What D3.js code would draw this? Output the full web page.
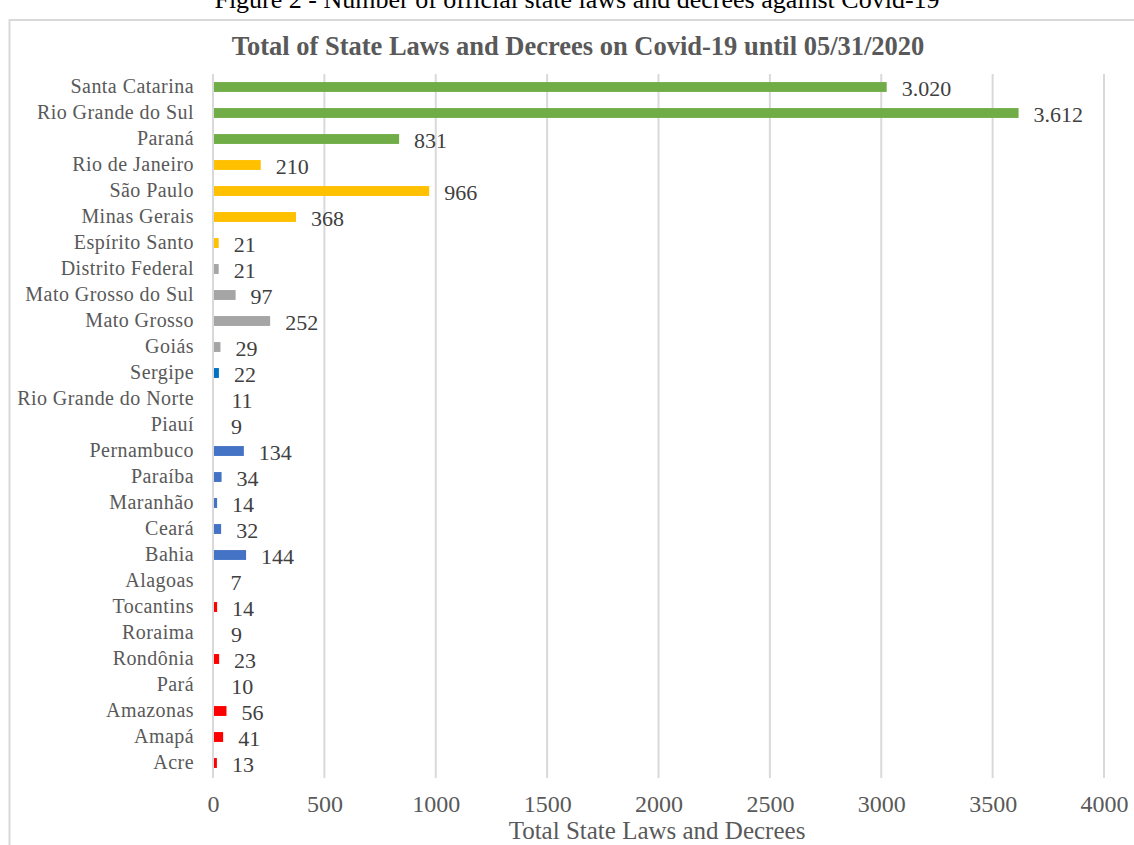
<!DOCTYPE html>
<html>
<head>
<meta charset="utf-8">
<script src="https://cdn.jsdelivr.net/npm/d3@7"></script>
<style>
  body { margin: 0; background: #fff; }
  svg text { font-family: 'Liberation Serif', 'Times New Roman', 'DejaVu Serif', serif !important; }
</style>
</head>
<body>
<div id="chart"></div>
<script>
// data, top to bottom
var states = ["Santa Catarina", "Rio Grande do Sul", "Paraná", "Rio de Janeiro", "São Paulo",
  "Minas Gerais", "Espírito Santo", "Distrito Federal", "Mato Grosso do Sul", "Mato Grosso",
  "Goiás", "Sergipe", "Rio Grande do Norte", "Piauí", "Pernambuco", "Paraíba", "Maranhão",
  "Ceará", "Bahia", "Alagoas", "Tocantins", "Roraima", "Rondônia", "Pará", "Amazonas",
  "Amapá", "Acre"];
var laws = [3020, 3612, 831, 210, 966, 368, 21, 21, 97, 252, 29, 22, 11, 9, 134, 34, 14, 32,
  144, 7, 14, 9, 23, 10, 56, 41, 13];
var barColors = ["#70ad47", "#70ad47", "#70ad47", "#ffc000", "#ffc000", "#ffc000", "#ffc000",
  "#a5a5a5", "#a5a5a5", "#a5a5a5", "#a5a5a5", "#0070c0", "#ffffff", "#ffffff", "#4472c4",
  "#4472c4", "#4472c4", "#4472c4", "#4472c4", "#ffffff", "#ff0000", "#ffffff", "#ff0000",
  "#ffffff", "#ff0000", "#ff0000", "#ff0000"];
var xTicks = [0, 500, 1000, 1500, 2000, 2500, 3000, 3500, 4000];

const W = 1134, H = 845;

const svg = d3.select("#chart")
  .append("svg")
    .attr("width", W)
    .attr("height", H);

// chart frame
svg.append("rect")
  .attr("x", 9.5).attr("y", 20)
  .attr("width", 1140).attr("height", 840)
  .attr("fill", "none")
  .attr("stroke", "#d9d9d9")
  .attr("stroke-width", 2);

// figure caption (cut off at top, like the reference)
svg.append("text")
  .attr("x", 577).attr("y", 8)
  .attr("text-anchor", "middle")
  .style("font-size", "26px")
  .style("fill", "#000")
  .text("Figure 2 - Number of official state laws and decrees against Covid-19");

svg.append("text")
  .attr("x", 578).attr("y", 55)
  .attr("text-anchor", "middle")
  .style("font-size", "26.5px")
  .style("font-weight", "bold")
  .style("fill", "#595959")
  .text("Total of State Laws and Decrees on Covid-19 until  05/31/2020");

const x = d3.scaleLinear()
  .domain([0, 4000])
  .range([213, 1104]);

const y = d3.scaleBand()
  .domain(states)
  .range([74, 776])
  .paddingInner(0.62)
  .paddingOuter(0.31);

// gridlines
svg.append("g")
  .selectAll("line")
  .data(xTicks)
  .join("line")
    .attr("x1", d => x(d)).attr("x2", d => x(d))
    .attr("y1", 74).attr("y2", 778)
    .attr("stroke", "#d9d9d9")
    .attr("stroke-width", 2);

// x axis labels
const xAxis = svg.append("g")
  .attr("transform", "translate(0,795)")
  .call(d3.axisBottom(x).tickValues(xTicks).tickSize(0).tickPadding(0).tickFormat(d3.format("d")));
xAxis.select(".domain").remove();
xAxis.selectAll("text")
  .attr("dy", "0.71em")
  .style("font-size", "24px")
  .style("fill", "#595959");

// category labels
const yAxis = svg.append("g")
  .attr("transform", "translate(194,0)")
  .call(d3.axisLeft(y).tickSize(0).tickPadding(0));
yAxis.select(".domain").remove();
yAxis.selectAll("text")
  .style("font-size", "20px")
  .style("letter-spacing", "0.45px")
  .style("fill", "#595959");

// bars
svg.append("g")
  .selectAll("rect")
  .data(laws)
  .join("rect")
    .attr("x", x(0) + 1)
    .attr("y", (d, i) => y(states[i]))
    .attr("width", d => x(d) - x(0))
    .attr("height", y.bandwidth())
    .attr("fill", (d, i) => barColors[i]);

// value labels
const fmt = d3.formatLocale({ decimal: ",", thousands: ".", grouping: [3], currency: ["", ""] }).format(",d");
svg.append("g")
  .selectAll("text")
  .data(laws)
  .join("text")
    .attr("x", d => x(d) + 16)
    .attr("y", (d, i) => y(states[i]) + y.bandwidth() / 2)
    .attr("dy", "0.42em")
    .style("font-size", "22px")
    .style("fill", "#404040")
    .text(d => fmt(d));

svg.append("text")
  .attr("x", 657).attr("y", 839)
  .attr("text-anchor", "middle")
  .style("font-size", "25px")
  .style("fill", "#595959")
  .text("Total State Laws and Decrees");
</script>
</body>
</html>
